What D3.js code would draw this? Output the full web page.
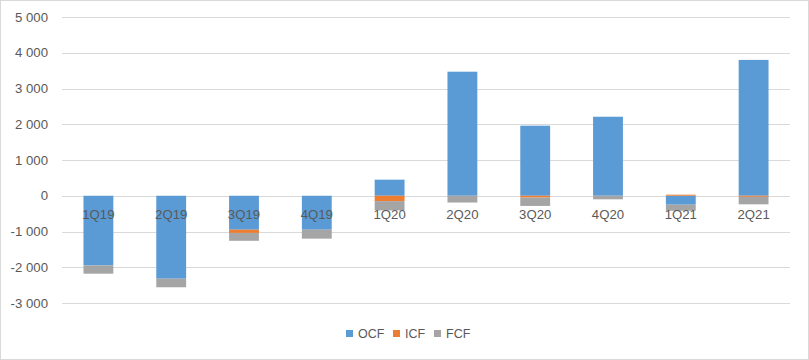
<!DOCTYPE html>
<html>
<head>
<meta charset="utf-8">
<script src="https://cdn.jsdelivr.net/npm/d3@7"></script>
<style>
  html, body { margin: 0; padding: 0; background: #fff; }
  svg { display: block; }
</style>
</head>
<body>
<svg id="chart" width="809" height="360"></svg>
<script>
const categories = ["1Q19", "2Q19", "3Q19", "4Q19", "1Q20", "2Q20", "3Q20", "4Q20", "1Q21", "2Q21"];
const seriesNames = ["OCF", "ICF", "FCF"];
const ocf = [-1950, -2320, -950, -950, 450, 3470, 1960, 2210, -250, 3800];
const icf = [0, 0, -90, 0, -150, 0, -50, 0, 30, -30];
const fcf = [-230, -240, -220, -250, -260, -190, -235, -100, -170, -210];
const yTicks = [-3000, -2000, -1000, 0, 1000, 2000, 3000, 4000, 5000];
const colors = ["#5B9BD5", "#ED7D31", "#A5A5A5"];

(function () {
const rows = categories.map((c, i) => ({ cat: c, OCF: ocf[i], ICF: icf[i], FCF: fcf[i] }));

const svg = d3.select("#chart");
const W = 809, H = 360;
const mLeft = 62, mRight = 790, mTop = 17, mBottom = 303;

svg.append("rect").attr("x", 0.5).attr("y", 0.5).attr("width", W - 1).attr("height", H - 1)
  .attr("fill", "#fff").attr("stroke", "#d9d9d9");

const x = d3.scaleBand().domain(categories).range([mLeft, mRight]).paddingInner(0.59).paddingOuter(0.295);
const y = d3.scaleLinear().domain([-3000, 5000]).range([mBottom, mTop]);

const fmt = v => d3.format(",")(v).replace(/,/g, " ").replace("−", "-");

// gridlines
svg.append("g").selectAll("line").data(yTicks).join("line")
  .attr("x1", mLeft).attr("x2", mRight)
  .attr("y1", d => Math.round(y(d)) + 0.5).attr("y2", d => Math.round(y(d)) + 0.5)
  .attr("stroke", "#d9d9d9").attr("stroke-width", 1);

// y labels
svg.append("g").selectAll("text").data(yTicks).join("text")
  .attr("x", 48).attr("y", d => y(d)).attr("dy", "0.35em")
  .attr("text-anchor", "end")
  .attr("font-family", "'Liberation Sans', Arial, sans-serif").attr("font-size", 13.2)
  .attr("fill", "#595959")
  .text(d => fmt(d));

// stacked bars
const stack = d3.stack().keys(seriesNames).offset(d3.stackOffsetDiverging);
const stacked = stack(rows);
svg.append("g").selectAll("g").data(stacked).join("g")
  .attr("fill", (d, i) => colors[i])
  .selectAll("rect").data(d => d).join("rect")
  .attr("x", d => x(d.data.cat))
  .attr("width", x.bandwidth())
  .attr("y", d => y(Math.max(d[0], d[1])))
  .attr("height", d => Math.abs(y(d[0]) - y(d[1])));

// category labels
svg.append("g").selectAll("text").data(categories).join("text")
  .attr("x", d => x(d) + x.bandwidth() / 2).attr("y", y(0) + 23.5)
  .attr("text-anchor", "middle")
  .attr("font-family", "'Liberation Sans', Arial, sans-serif").attr("font-size", 13.2)
  .attr("fill", "#595959")
  .text(d => d);

// legend
const legendX = [346, 393, 434];
const lg = svg.append("g").selectAll("g").data(seriesNames).join("g")
  .attr("transform", (d, i) => `translate(${legendX[i]},330)`);
lg.append("rect").attr("width", 7).attr("height", 7).attr("fill", (d, i) => colors[i]);
lg.append("text").attr("x", 12).attr("y", 3.5).attr("dy", "0.35em")
  .attr("font-family", "'Liberation Sans', Arial, sans-serif").attr("font-size", 12.5)
  .attr("fill", "#595959").text(d => d);
})();
</script>
</body>
</html>
